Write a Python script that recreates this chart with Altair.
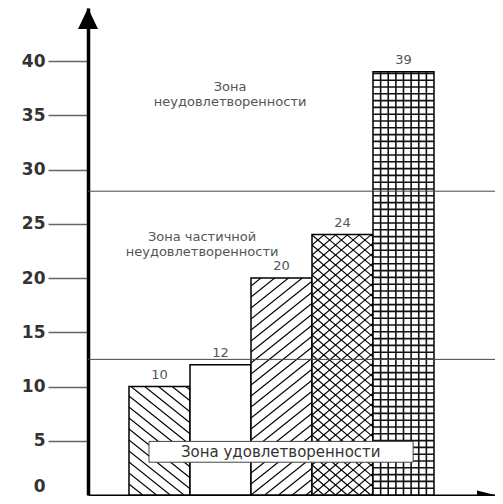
import altair as alt
import pandas as pd
import numpy as np

# ---------------- data ----------------
bar_ids = ["1", "2", "3", "4", "5"]
values = [10, 12, 20, 24, 39]
patterns = ["back", "none", "fwd", "cross", "grid"]
zone_limits = [12.5, 28]
upper_zone_title = ["Зона", "неудовлетворенности"]
middle_zone_title = ["Зона частичной", "неудовлетворенности"]
bottom_zone_title = "Зона удовлетворенности"
y_ticks = [0, 5, 10, 15, 20, 25, 30, 35, 40]

# ---------------- layout ----------------
W, H = 407, 487          # plot area in px
BAR_PX = 61.0            # px per x unit (one bar width)
PY = 10.85               # px per y unit
XMAX = W / BAR_PX
YMAX = H / PY
X0 = 41 / BAR_PX         # gap between y axis and first bar

xs = alt.Scale(domain=[0, XMAX], nice=False, zero=False)
ys = alt.Scale(domain=[0, YMAX], nice=False, zero=False)

bars = pd.DataFrame({"id": bar_ids, "value": values, "pattern": patterns})
bars["x"] = X0 + np.arange(len(bars))
bars["x2"] = bars["x"] + 1
bars["y0"] = 0.0


def diag(m, d, h, bw):
    segs = []
    if m > 0:
        cmin, cmax = -m * bw, h
    else:
        cmin, cmax = 0.0, h - m * bw
    c = np.floor(cmin / d) * d
    while c < cmax:
        if c > cmin:
            if m > 0:
                lo, hi = max(0.0, -c / m), min(bw, (h - c) / m)
            else:
                lo, hi = max(0.0, (h - c) / m), min(bw, -c / m)
            if hi - lo > 0.5:
                segs.append((lo, c + m * lo, hi, c + m * hi))
        c += d
    return segs


def grid(sx, sy, h, bw):
    segs = []
    u = sx
    while u < bw - 1:
        segs.append((u, 0.0, u, h))
        u += sx
    t = sy
    while t < h - 1:
        segs.append((0.0, t, bw, t))
        t += sy
    return segs


rows = []
for _, b in bars.iterrows():
    h = b["value"] * PY
    p = b["pattern"]
    if p == "back":
        segs, kind = diag(-0.8, 11, h, BAR_PX), "hatch"
    elif p == "fwd":
        segs, kind = diag(0.8, 11, h, BAR_PX), "hatch"
    elif p == "cross":
        segs, kind = diag(0.85, 10, h, BAR_PX) + diag(-0.85, 10, h, BAR_PX), "hatch"
    elif p == "grid":
        segs, kind = grid(BAR_PX / 8, 6.8, h, BAR_PX), "grid"
    else:
        segs, kind = [], "hatch"
    for (u1, t1, u2, t2) in segs:
        rows.append({"kind": kind,
                     "hx1": b["x"] + u1 / BAR_PX, "hy1": t1 / PY,
                     "hx2": b["x"] + u2 / BAR_PX, "hy2": t2 / PY})
hatch = pd.DataFrame(rows)

zones = pd.DataFrame({"zy": zone_limits, "zx1": 0.0, "zx2": XMAX})

zone_text = pd.DataFrame({
    "label": upper_zone_title + middle_zone_title,
    "tx": [2.33, 2.33, 1.87, 1.87],
    "ty": [37.6, 36.2, 23.75, 22.4],
})

box = pd.DataFrame({"bx1": [1.0], "bx2": [5.33], "by1": [3.02], "by2": [4.94],
                    "label": [bottom_zone_title], "tx": [3.16], "ty": [3.98]})

arrows = pd.DataFrame({"ax": [0.0], "ay": [YMAX - 10.5 / PY]})
arrows_x = pd.DataFrame({"ax": [XMAX - 9 / BAR_PX], "ay": [0.0]})

FONT = "DejaVu Sans"

# ---------------- layers ----------------
bar_layer = alt.Chart(bars).mark_rect(fill="white", stroke="black", strokeWidth=1.5).encode(
    x=alt.X("x:Q", scale=xs, title=None),
    x2="x2",
    y=alt.Y("y0:Q", scale=ys, title=None),
    y2="value",
)

hatch_layer = alt.Chart(hatch).transform_filter("datum.kind === 'hatch'").mark_rule(
    color="black", strokeWidth=1.1).encode(
    x=alt.X("hx1:Q", scale=xs), x2="hx2", y=alt.Y("hy1:Q", scale=ys), y2="hy2")

grid_layer = alt.Chart(hatch).transform_filter("datum.kind === 'grid'").mark_rule(
    color="#111", strokeWidth=1.6).encode(
    x=alt.X("hx1:Q", scale=xs), x2="hx2", y=alt.Y("hy1:Q", scale=ys), y2="hy2")

zone_layer = alt.Chart(zones).mark_rule(color="#444", strokeWidth=1).encode(
    x=alt.X("zx1:Q", scale=xs), x2="zx2", y=alt.Y("zy:Q", scale=ys))

box_layer = alt.Chart(box).mark_rect(fill="white", stroke="#444", strokeWidth=1).encode(
    x=alt.X("bx1:Q", scale=xs), x2="bx2", y=alt.Y("by1:Q", scale=ys), y2="by2")

box_text = alt.Chart(box).mark_text(font=FONT, fontSize=15, color="#333",
                                    align="center", baseline="middle").encode(
    x=alt.X("tx:Q", scale=xs), y=alt.Y("ty:Q", scale=ys), text="label")

zone_text_layer = alt.Chart(zone_text).mark_text(font=FONT, fontSize=13, color="#555",
                                                 align="center", baseline="middle").encode(
    x=alt.X("tx:Q", scale=xs), y=alt.Y("ty:Q", scale=ys), text="label")

value_labels = alt.Chart(bars).transform_calculate(cx="datum.x + 0.5").mark_text(
    font=FONT, fontSize=13, color="#555", align="center", baseline="bottom", dy=-5).encode(
    x=alt.X("cx:Q", scale=xs), y=alt.Y("value:Q", scale=ys), text="value:Q")

arrow_y = alt.Chart(arrows).mark_point(shape="M0,-1L0.95,1L-0.95,1Z", size=441, filled=True,
                                       color="black", opacity=1, strokeWidth=0).encode(
    x=alt.X("ax:Q", scale=xs), y=alt.Y("ay:Q", scale=ys))

arrow_x = alt.Chart(arrows_x).mark_point(shape="M1,0L-1,-0.5L-1,0.5Z", size=324, filled=True,
                                         color="black", opacity=1, strokeWidth=0).encode(
    x=alt.X("ax:Q", scale=xs), y=alt.Y("ay:Q", scale=ys))

chart = alt.layer(
    bar_layer, hatch_layer, grid_layer, zone_layer, box_layer, box_text,
    zone_text_layer, value_labels, arrow_y, arrow_x,
).properties(
    width=W, height=H,
    autosize=alt.AutoSizeParams(type="none"),
    padding={"left": 80, "top": 0, "right": 0, "bottom": 1},
    background="white",
).configure_view(stroke=None).configure_axisX(
    domainColor="black", domainWidth=2, ticks=False, labels=False, grid=False, title=None,
).configure_axisY(
    values=y_ticks, domainColor="black", domainWidth=3.5, grid=False, title=None,
    tickSize=40, tickWidth=1.5,
    tickColor={"condition": {"test": "datum.value === 0", "value": "transparent"}, "value": "#666"},
    labelBaseline={"condition": {"test": "datum.value === 0", "value": "bottom"}, "value": "middle"},
    labelFont=FONT, labelFontWeight="bold", labelFontSize=17, labelColor="#333", labelPadding=3,
)

chart.save("out.html", embed_options={"renderer": "svg", "actions": False})
